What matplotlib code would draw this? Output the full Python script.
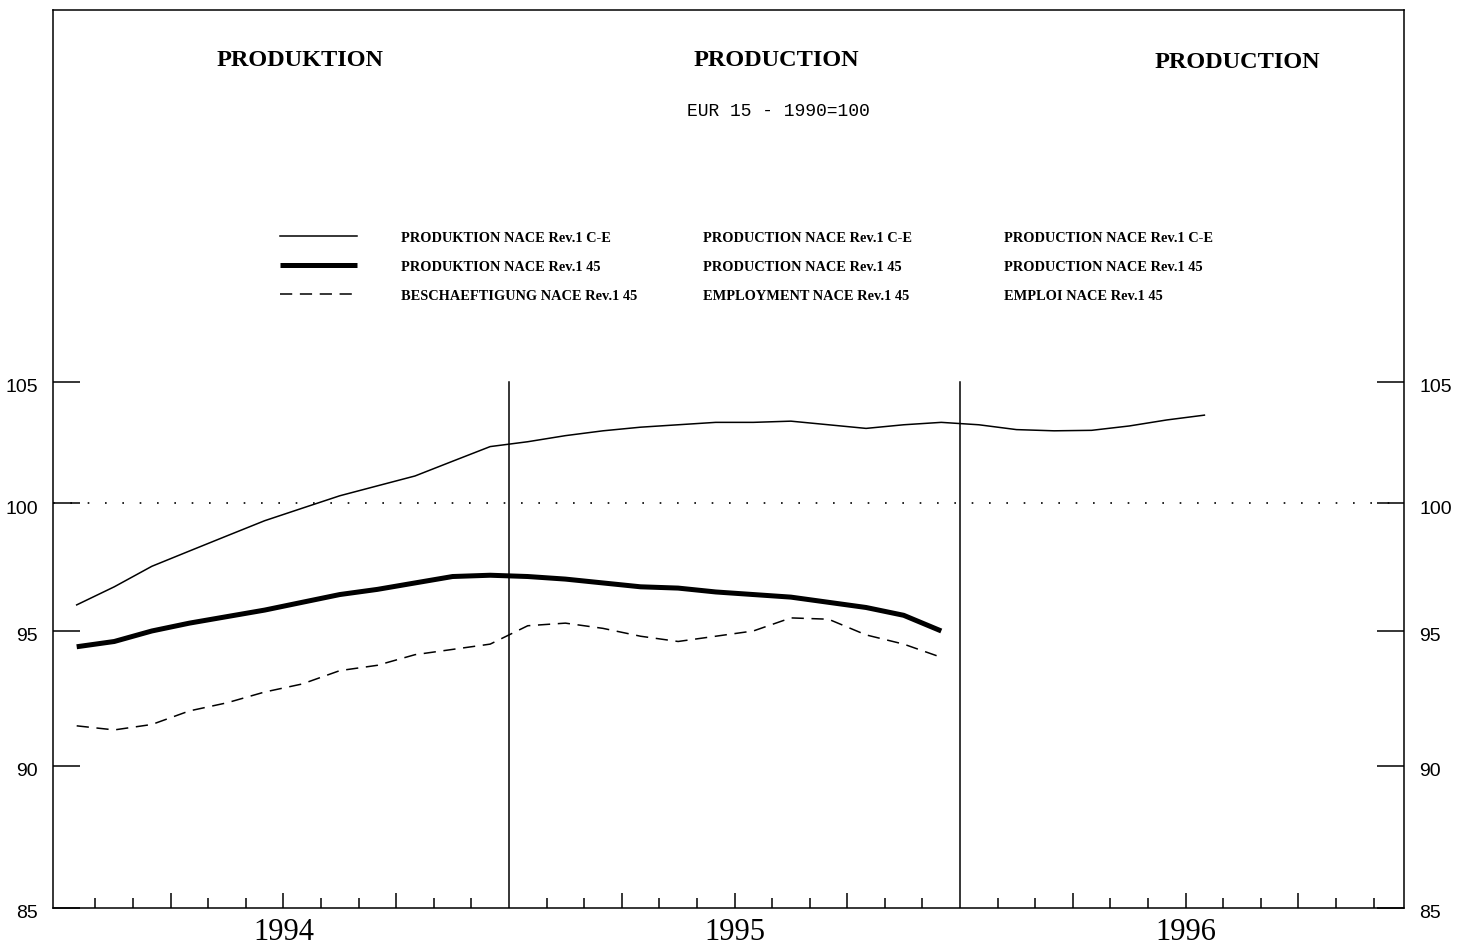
import matplotlib.pyplot as plt
import numpy as np
from matplotlib.lines import Line2D
from matplotlib.ticker import FixedLocator, FixedFormatter, NullLocator
from matplotlib.transforms import blended_transform_factory, ScaledTranslation

# monthly index values, Jan 1994 onwards (EUR 15, 1990=100)
prod_ce = [96.0, 96.7, 97.5, 98.1, 98.7, 99.3, 99.8, 100.3, 100.7, 101.1, 101.7, 102.3,
           102.5, 102.75, 102.95, 103.1, 103.2, 103.3, 103.3, 103.35, 103.2, 103.05, 103.2, 103.3,
           103.2, 103.0, 102.95, 102.97, 103.15, 103.4, 103.6]
prod_45 = [94.4, 94.6, 95.0, 95.3, 95.55, 95.8, 96.1, 96.4, 96.6, 96.85, 97.1, 97.15,
           97.1, 97.0, 96.85, 96.7, 96.65, 96.5, 96.4, 96.3, 96.1, 95.9, 95.6, 95.0]
empl_45 = [91.45, 91.3, 91.5, 92.0, 92.3, 92.7, 93.0, 93.5, 93.7, 94.1, 94.3, 94.5,
           95.2, 95.3, 95.1, 94.8, 94.6, 94.8, 95.0, 95.5, 95.45, 94.85, 94.5, 94.0]

years = ["1994", "1995", "1996"]
y_ticks = [85, 90, 95, 100, 105]

titles = ["PRODUKTION", "PRODUCTION", "PRODUCTION"]
subtitle = "EUR 15 - 1990=100"
legend_cols = [
    ["PRODUKTION NACE Rev.1 C-E", "PRODUKTION NACE Rev.1 45", "BESCHAEFTIGUNG NACE Rev.1 45"],
    ["PRODUCTION NACE Rev.1 C-E", "PRODUCTION NACE Rev.1 45", "EMPLOYMENT NACE Rev.1 45"],
    ["PRODUCTION NACE Rev.1 C-E", "PRODUCTION NACE Rev.1 45", "EMPLOI NACE Rev.1 45"],
]

W, H = 1473, 950
fig = plt.figure(figsize=(W / 100, H / 100), dpi=100)
ax = fig.add_axes([53 / W, 1 - 908 / H, (1404 - 53) / W, (908 - 10) / H])


def fx(px):
    return px / W


def fy(py):
    return 1 - py / H


lw_thin = 1.1
styles = [
    dict(color="black", lw=lw_thin, linestyle="-"),
    dict(color="black", lw=3.6, linestyle="-", solid_capstyle="butt"),
    dict(color="black", lw=lw_thin, linestyle=(0, (8, 5))),
]

for series, st in zip([prod_ce, prod_45, empl_45], styles):
    x = np.arange(len(series)) + 0.5
    ax.plot(x, series, **st)

ax.set_yscale("log")
ax.set_xlim(-0.13, 35.81)
ax.set_ylim(85, 121.9)

# reference line and year separators
ax.axhline(100, color="black", lw=1.2, linestyle=(0, (1, 9.4)))
for b in [12, 24]:
    ax.plot([b, b], [85, 105], color="black", lw=1.1)

# y axis, ticks on both sides
ax.yaxis.set_major_locator(FixedLocator(y_ticks))
ax.yaxis.set_major_formatter(FixedFormatter([str(v) for v in y_ticks]))
ax.yaxis.set_minor_locator(NullLocator())
ax.tick_params(axis="y", which="major", direction="in", length=19.5, width=1.1,
               left=True, right=True, labelleft=True, labelright=True, pad=11,
               labelsize=14)
shift = ScaledTranslation(0, -4 / 100, fig.dpi_scale_trans)
for tick in ax.yaxis.get_major_ticks():
    for lab in (tick.label1, tick.label2):
        lab.set_fontfamily("Liberation Sans")
        lab.set_transform(lab.get_transform() + shift)

# x axis: month ticks, longer at quarters
quarters = [m for m in range(1, 36) if m % 3 == 0 and m % 12 != 0]
months = [m for m in range(1, 36) if m % 3 != 0]
ax.xaxis.set_major_locator(FixedLocator(quarters))
ax.xaxis.set_minor_locator(FixedLocator(months))
ax.tick_params(axis="x", which="major", direction="in", length=11, width=1.1, labelbottom=False)
ax.tick_params(axis="x", which="minor", direction="in", length=7.5, width=1.1)

trans = blended_transform_factory(ax.transData, fig.transFigure)
for i, yr in enumerate(years):
    ax.text(12 * i + 6, fy(933), yr, transform=trans, ha="center", va="center",
            fontsize=22, family="Liberation Serif")

for sp in ax.spines.values():
    sp.set_linewidth(1.1)

# headings
for cx, t, cy in zip([300, 776, 1237], titles, [60, 60, 62]):
    fig.text(fx(cx), fy(cy), t, ha="center", va="center", fontsize=17.5,
             fontweight="bold", family="Liberation Serif")
fig.text(fx(778), fy(112), subtitle, ha="center", va="center", fontsize=13,
         family="Liberation Mono")

# legend
rows_y = [238, 267, 296]
for st, ry in zip(styles, rows_y):
    fig.add_artist(Line2D([fx(280), fx(357)], [fy(ry - 2), fy(ry - 2)], **st))
for col_x, col in zip([401, 703, 1004], legend_cols):
    for ry, txt in zip(rows_y, col):
        fig.text(fx(col_x), fy(ry), txt, ha="left", va="center", fontsize=10.4,
                 fontweight="bold", family="Liberation Serif")

fig.savefig("out.png", dpi=100)
